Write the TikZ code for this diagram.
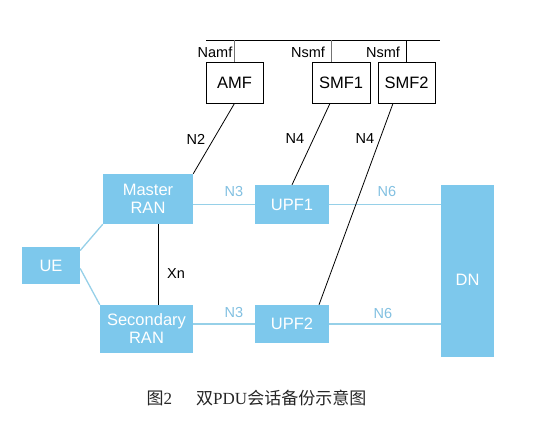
\documentclass[tikz,border=0pt]{standalone}
\usepackage{fontspec}
\setmainfont{Liberation Sans}
\newfontfamily\cjk{Noto Sans CJK SC}
\newfontfamily\capserif{Liberation Serif}
\usetikzlibrary{positioning}
\definecolor{ranblue}{RGB}{125,200,236}
\definecolor{linkblue}{RGB}{150,208,232}
\definecolor{labelblue}{RGB}{130,192,225}
\tikzset{
  nfbox/.style={draw=black, line width=0.8pt, fill=white, inner sep=0pt,
    minimum width=57pt, minimum height=41pt, font=\fontsize{16.5}{18}\selectfont},
  anbox/.style={fill=ranblue, text=white, inner sep=0pt, align=center,
    font=\fontsize{16.5}{18}\selectfont},
  cplink/.style={black, line width=0.8pt},
  buslink/.style={black!55, line width=0.8pt},
  uplink/.style={linkblue, line width=1.3pt},
  iflabel/.style={font=\fontsize{14.5}{16}\selectfont},
  uplabel/.style={iflabel, text=labelblue},
}

\begin{document}
\begin{tikzpicture}[x=1pt, y=-1pt]
\useasboundingbox (0,0) rectangle (548,435);

% Service bus
\coordinate (busL) at (206,40);
\coordinate (busR) at (440,40);
\draw[cplink] (busL) -- (busR);

% Control plane functions
\node[nfbox] (AMF) at (234.5,82.5) {AMF};
\node[nfbox, minimum width=58pt] (SMF1) at (341,82.5) {SMF1};
\node[nfbox] (SMF2) at (406.5,82.5) {SMF2};

\draw[buslink] (AMF.north) -- (AMF.north |- busL);
\draw[buslink] ([xshift=-10pt]SMF1.north) -- ([xshift=-10pt]SMF1.north |- busL);
\draw[cplink] (SMF2.north) -- (SMF2.north |- busL);

\node[iflabel] (namf) at (215,52) {Namf};
\node[iflabel] (nsmf1) at (308,52) {Nsmf};
\node[iflabel] (nsmf2) at (383,52) {Nsmf};

% Access and user plane
\node[anbox, minimum width=58pt, minimum height=37pt] (UE) at (51,265.5) {UE};
\node[anbox, minimum width=90pt, minimum height=50pt] (MRAN) at (148,199) {Master\\RAN};
\node[anbox, minimum width=93pt, minimum height=48pt] (SRAN) at (146.5,329) {Secondary\\RAN};
\node[anbox, minimum width=74pt, minimum height=39pt] (UPF1) at (292,204.5) {UPF1};
\node[anbox, minimum width=74pt, minimum height=38pt] (UPF2) at (292,324) {UPF2};
\node[anbox, minimum width=53pt, minimum height=172pt,
  label={[text=white, font=\fontsize{16.5}{18}\selectfont, yshift=-9pt]center:DN}] (DN) at (467.5,271) {};

% User plane links
\draw[uplink] ([yshift=15pt]UE.east) -- (MRAN.south west);
\draw[uplink] ([yshift=-3pt]UE.east) -- (SRAN.north west);
\draw[uplink] (MRAN.east |- UPF1.west) -- (UPF1.west);
\draw[uplink] (SRAN.east |- UPF2.west) -- (UPF2.west);
\draw[uplink] (UPF1.east) -- (UPF1.east -| DN.west);
\draw[uplink] (UPF2.east) -- (UPF2.east -| DN.west);

\node[uplabel] (n3a) at (234,192) {N3};
\node[uplabel] (n3b) at (234,313) {N3};
\node[uplabel] (n6a) at (387,192) {N6};
\node[uplabel] (n6b) at (383,314) {N6};

% Control links
\draw[cplink] ([xshift=10pt]MRAN.south) -- ([xshift=10pt]MRAN.south |- SRAN.north);
\node[iflabel] (xn) at (176,274) {Xn};

\draw[cplink] (AMF.south) -- (MRAN.north east);
\draw[cplink] ([xshift=-11pt]SMF1.south) -- (UPF1.north);
\draw[cplink] ([xshift=-13.5pt]SMF2.south) -- ([xshift=27pt]UPF2.north);

\node[iflabel] (n2) at (196,139) {N2};
\node[iflabel] (n4a) at (295,139) {N4};
\node[iflabel] (n4b) at (365,139) {N4};

% Caption
\node[font=\fontsize{17}{19}\selectfont, text=black!85] (caption) at (256.5,398)
  {{\cjk 图}{\capserif 2}\hspace{24pt}{\cjk 双}{\capserif PDU}{\cjk 会话备份示意图}};

\end{tikzpicture}
\end{document}
